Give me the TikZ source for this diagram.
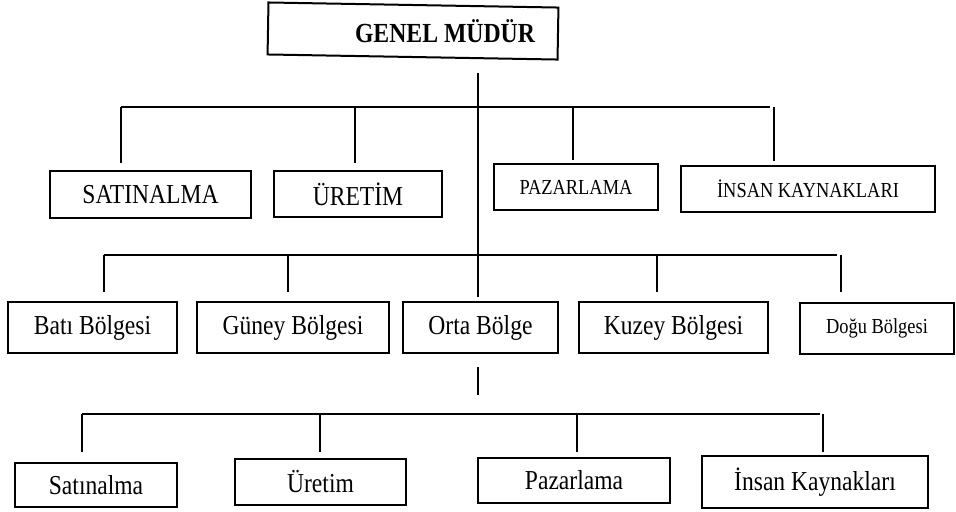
\documentclass[tikz,border=0pt]{standalone}
\usepackage{fontspec}
\setmainfont{Liberation Serif}[FakeStretch=0.86]
\usetikzlibrary{positioning}

\begin{document}
\begin{tikzpicture}[x=0.5pt, y=-0.5pt,
    kutu/.style={draw, line width=1pt, inner sep=0pt},
    ebat/.style 2 args={minimum width=#1*0.5pt, minimum height=#2*0.5pt},
    buyuk/.style={font=\fontsize{13.7}{16}\selectfont},
    kucuk/.style={font=\fontsize{10.7}{13}\selectfont},
    hat/.style={line width=1pt}]
    \useasboundingbox (0,0) rectangle (956,511);

    % Top: general manager
    \node[kutu, ebat={290}{52}, rotate=-1] (gm) at (413,31) {};
    \node[font=\fontsize{13.8}{16}\selectfont\bfseries] (gmyazi) at (445,31) {GENEL MÜDÜR};
    \coordinate (govdeust) at (478,73);
    \coordinate (govdealt) at (478,297);
    \draw[hat] (govdeust) -- (govdealt);

    % First level: departments
    \node[kutu, buyuk, ebat={201}{47}] (satin) at (150.5,194.5) {SATINALMA};
    \node[kutu, buyuk, ebat={168}{46}] (uret) at (358,194) {ÜRETİM};
    \node[kutu, kucuk, ebat={164}{46}] (pazar) at (576,187) {PAZARLAMA};
    \node[kutu, kucuk, ebat={254}{46}] (ik) at (808,189) {İNSAN KAYNAKLARI};

    \coordinate (hat1sol) at (121,107);
    \coordinate (hat1sag) at (770,107);
    \draw[hat] (hat1sol) -- (hat1sag);
    \foreach \x/\y in {121/163, 355/163, 573/160, 774/161}
        \draw[hat] (\x,107) -- (\x,\y);

    % Second level: regions
    \node[kutu, buyuk, ebat={169}{51}] (bati) at (92.5,327.5) {Batı Bölgesi};
    \node[kutu, buyuk, ebat={192}{51}] (guney) at (293,327.5) {Güney Bölgesi};
    \node[kutu, buyuk, ebat={155}{51}] (orta) at (480.5,327.5) {Orta Bölge};
    \node[kutu, buyuk, ebat={189}{51}] (kuzey) at (673.5,327.5) {Kuzey Bölgesi};
    \node[kutu, kucuk, ebat={154}{51}] (dogu) at (877,328.5) {Doğu Bölgesi};

    \coordinate (hat2sol) at (104,255);
    \coordinate (hat2sag) at (837,255);
    \draw[hat] (hat2sol) -- (hat2sag);
    \foreach \x/\y in {104/292, 288/292, 657/292, 841/292}
        \draw[hat] (\x,255) -- (\x,\y);

    % Third level: units of the central region
    \coordinate (kisaust) at (478,367);
    \coordinate (kisaalt) at (478,395);
    \draw[hat] (kisaust) -- (kisaalt);

    \node[kutu, buyuk, ebat={162}{44}] (satin2) at (96,485) {Satınalma};
    \node[kutu, buyuk, ebat={171}{46}] (uret2) at (320.5,482) {Üretim};
    \node[kutu, buyuk, ebat={192}{45}] (pazar2) at (574,480.5) {Pazarlama};
    \node[kutu, buyuk, ebat={226}{52}] (ik2) at (815,482) {İnsan Kaynakları};

    \coordinate (hat3sol) at (82,414);
    \coordinate (hat3sag) at (820,414);
    \draw[hat] (hat3sol) -- (hat3sag);
    \foreach \x/\y in {82/452, 320/452, 577/452, 823/452}
        \draw[hat] (\x,414) -- (\x,\y);
\end{tikzpicture}
\end{document}
